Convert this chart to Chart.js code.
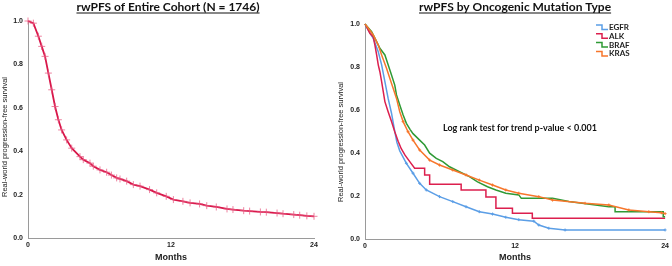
<!DOCTYPE html>
<html>
<head>
<meta charset="utf-8">
<script src="https://cdn.jsdelivr.net/npm/chart.js@4.4.0/dist/chart.umd.min.js"></script>
<style>
  body { margin: 0; background: #fff; }
  #wrap { position: relative; width: 672px; height: 266px; }
  canvas { position: absolute; top: 0; }
</style>
</head>
<body>
<div id="wrap">
  <canvas id="left" width="336" height="266" style="left:0"></canvas>
  <canvas id="right" width="336" height="266" style="left:336px"></canvas>
</div>
<script>
// ---- data (months, survival proportion) ----
const xTicks = [0, 12, 24];
const yTicks = [0, 0.2, 0.4, 0.6, 0.8, 1.0];

const allMonths = [0, 0.45, 0.87, 1.15, 1.43, 1.71, 1.99, 2.27, 2.55, 2.82, 3.24, 3.67, 4.36, 4.64, 5.2, 5.48, 6.04, 6.6, 7.0, 7.44, 7.72, 8.28, 8.84, 9.4, 10.2, 10.8, 11.6, 12.2, 13.0, 13.6, 14.4, 15.0, 15.8, 16.7, 17.2, 18.1, 18.6, 19.5, 20.0, 20.9, 21.4, 22.3, 22.8, 23.4, 24];
const allSurv = [1.0, 0.99, 0.93, 0.883, 0.837, 0.76, 0.683, 0.606, 0.545, 0.498, 0.452, 0.414, 0.375, 0.361, 0.345, 0.331, 0.314, 0.303, 0.29, 0.277, 0.272, 0.262, 0.246, 0.239, 0.223, 0.208, 0.192, 0.177, 0.169, 0.162, 0.157, 0.149, 0.143, 0.134, 0.131, 0.126, 0.124, 0.12, 0.119, 0.115, 0.112, 0.108, 0.105, 0.102, 0.10];

const groups = ["EGFR", "ALK", "BRAF", "KRAS"];
const groupColors = ["#5b9ee6", "#dc1f4e", "#2f9a35", "#f7762b"];

// flat stretches of a curve are written as two points (corner, then drop)
const egfrMonths = [0, 0.27, 0.66, 1.06, 1.33, 1.59, 1.85, 2.12, 2.35, 2.55, 2.78, 3.31, 3.84, 4.37, 4.9, 5.96, 7.02, 8.08, 9.14, 10.2, 11.26, 12.3, 13.5, 13.9, 14.7, 16.0, 24];
const egfrSurv = [1.0, 0.972, 0.933, 0.871, 0.81, 0.732, 0.654, 0.585, 0.51, 0.45, 0.41, 0.352, 0.306, 0.259, 0.228, 0.197, 0.174, 0.15, 0.127, 0.116, 0.101, 0.09, 0.083, 0.065, 0.05, 0.042, 0.042];

const alkMonths = [0, 0.4, 0.66, 0.8, 0.93, 1.06, 1.19, 1.33, 1.46, 1.59, 1.85, 2.12, 2.38, 2.65, 2.9, 3.2, 3.58, 3.97, 4.77, 4.77, 5.17, 5.17, 7.69, 7.69, 9.67, 9.67, 10.47, 10.47, 11.79, 11.79, 13.38, 13.38, 24];
const alkSurv = [1.0, 0.956, 0.94, 0.9, 0.856, 0.81, 0.778, 0.732, 0.685, 0.639, 0.592, 0.546, 0.499, 0.455, 0.42, 0.39, 0.36, 0.329, 0.329, 0.298, 0.298, 0.255, 0.255, 0.228, 0.228, 0.195, 0.195, 0.143, 0.143, 0.12, 0.12, 0.096, 0.096];

const brafMonths = [0, 0.53, 0.93, 1.19, 1.59, 1.85, 2.12, 2.38, 2.52, 2.78, 3.05, 3.31, 3.6, 3.84, 4.37, 4.77, 5.17, 5.7, 6.22, 6.76, 7.55, 8.35, 9.0, 9.8, 10.47, 11.26, 12.3, 12.5, 15.0, 16.3, 19.5, 20.0, 20.0, 23.85, 23.85, 24];
const brafSurv = [1.0, 0.964, 0.918, 0.887, 0.856, 0.81, 0.763, 0.716, 0.67, 0.623, 0.577, 0.538, 0.51, 0.49, 0.46, 0.437, 0.399, 0.375, 0.36, 0.336, 0.313, 0.29, 0.266, 0.243, 0.228, 0.213, 0.205, 0.189, 0.189, 0.174, 0.15, 0.15, 0.127, 0.127, 0.104, 0.104];

const krasMonths = [0, 0.27, 0.66, 1.06, 1.33, 1.72, 1.99, 2.25, 2.52, 2.78, 3.05, 3.44, 3.84, 4.37, 5.17, 5.96, 7.02, 8.08, 9.14, 10.2, 11.26, 12.3, 13.9, 15.0, 17.6, 19.5, 21.1, 22.7, 23.7, 24];
const krasSurv = [1.0, 0.98, 0.949, 0.902, 0.856, 0.794, 0.747, 0.701, 0.654, 0.592, 0.546, 0.499, 0.46, 0.414, 0.367, 0.344, 0.321, 0.298, 0.274, 0.251, 0.228, 0.213, 0.197, 0.181, 0.166, 0.158, 0.135, 0.127, 0.122, 0.118];

const groupMonths = [egfrMonths, alkMonths, brafMonths, krasMonths];
const groupSurv = [egfrSurv, alkSurv, brafSurv, krasSurv];

// ---- helpers ----
const toPoints = (xs, ys) => xs.map((x, i) => ({ x: x, y: ys[i] }));
const tickFont = { family: "'Liberation Sans', Arial, sans-serif", size: 7, weight: "bold" };

const makeScales = (yWidth, xHeight) => ({
  x: {
    type: "linear", min: 0, max: 24,
    afterBuildTicks: (s) => { s.ticks = xTicks.map((v) => ({ value: v })); },
    afterFit: (s) => { s.height = xHeight; },
    grid: { display: false, drawTicks: false },
    border: { display: true, color: "#9a9a9a", width: 1 },
    ticks: { font: tickFont, color: "#222", padding: 3, maxRotation: 0 },
    title: { display: true, text: "Months", color: "#222", padding: { top: 0, bottom: 3 },
      font: { family: "'Liberation Sans', Arial, sans-serif", size: 9, weight: "bold" } },
  },
  y: {
    type: "linear", min: 0, max: 1,
    afterBuildTicks: (s) => { s.ticks = yTicks.map((v) => ({ value: v })); },
    afterFit: (s) => { s.width = yWidth; },
    grid: { display: false, drawTicks: false },
    border: { display: true, color: "#9a9a9a", width: 1 },
    ticks: { font: tickFont, color: "#222", padding: 5, callback: (v) => v.toFixed(1) },
  },
});

// titles, y-axis caption, legend and the log-rank note
const textPlugin = {
  id: "texts",
  afterDraw(chart, args, opts) {
    const ctx = chart.ctx;
    const area = chart.chartArea;
    ctx.save();
    // underlined title
    ctx.font = "bold 12px Lato, sans-serif";
    ctx.fillStyle = "#111";
    ctx.textAlign = "center";
    ctx.textBaseline = "alphabetic";
    const cx = (area.left + area.right) / 2 + (opts.titleShift || 0);
    ctx.fillText(opts.title, cx, 11);
    const w = ctx.measureText(opts.title).width;
    ctx.fillRect(cx - w / 2, 12.5, w, 1);
    // y caption
    ctx.translate(5, opts.yCaptionY);
    ctx.rotate(-Math.PI / 2);
    ctx.font = "7.5px 'Liberation Sans', Arial, sans-serif";
    ctx.textBaseline = "middle";
    ctx.fillStyle = "#222";
    ctx.fillText("Real-world progression-free survival", 0, 0);
    ctx.restore();

    if (opts.legend) {
      ctx.save();
      ctx.font = "bold 8px Lato, sans-serif";
      ctx.textBaseline = "middle";
      ctx.textAlign = "left";
      chart.data.datasets.forEach((ds, i) => {
        const y = 27.5 + i * 8.8;
        const x0 = 260;
        ctx.strokeStyle = ds.borderColor;
        ctx.lineWidth = 1.5;
        ctx.beginPath();
        ctx.moveTo(x0, y - 2.5);
        ctx.lineTo(x0 + 6, y - 2.5);
        ctx.lineTo(x0 + 6, y + 2);
        ctx.lineTo(x0 + 12, y + 2);
        ctx.stroke();
        ctx.fillStyle = "#222";
        ctx.fillText(ds.label, x0 + 13, y);
      });
      ctx.font = "bold 9px Lato, sans-serif";
      ctx.textAlign = "center";
      ctx.fillStyle = "#111";
      ctx.fillText("Log rank test for trend p-value < 0.001", 184, 128);
      ctx.restore();
    }
  },
};

// ---- left: entire cohort ----
new Chart(document.getElementById("left"), {
  type: "line",
  data: {
    datasets: [{
      label: "Entire cohort",
      data: toPoints(allMonths, allSurv),
      borderColor: "#d8174a",
      borderWidth: 1.8,
      pointStyle: "cross",
      pointRadius: 3.5,
      pointBorderWidth: 1,
      pointBorderColor: "rgba(232, 90, 130, 0.75)",
      clip: 6,
    }],
  },
  options: {
    responsive: false,
    animation: false,
    layout: { padding: { top: 21, right: 22, left: 0, bottom: 0 } },
    plugins: {
      legend: { display: false },
      tooltip: { enabled: false },
      texts: { title: "rwPFS of Entire Cohort (N = 1746)", yCaptionY: 137, titleShift: -3 },
    },
    scales: makeScales(28, 28),
  },
  plugins: [textPlugin],
});

// ---- right: by mutation type ----
const groupRadius = [1.5, 0, 0, 1.5];
const groupOrder = [4, 3, 2, 1];
new Chart(document.getElementById("right"), {
  type: "line",
  data: {
    datasets: groups.map((g, i) => ({
      label: g,
      data: toPoints(groupMonths[i], groupSurv[i]),
      borderColor: groupColors[i],
      borderWidth: 1.5,
      pointStyle: "cross",
      pointRadius: (c) => (c.raw && c.raw.x > 3 ? groupRadius[i] : 0),
      pointBorderWidth: 1,
      pointBorderColor: groupColors[i],
      order: groupOrder[i],
      clip: 6,
    })),
  },
  options: {
    responsive: false,
    animation: false,
    layout: { padding: { top: 24, right: 5, left: 0, bottom: 0 } },
    plugins: {
      legend: { display: false },
      tooltip: { enabled: false },
      texts: { title: "rwPFS by Oncogenic Mutation Type", yCaptionY: 142, legend: true },
    },
    scales: makeScales(29, 27),
  },
  plugins: [textPlugin],
});
</script>
</body>
</html>
